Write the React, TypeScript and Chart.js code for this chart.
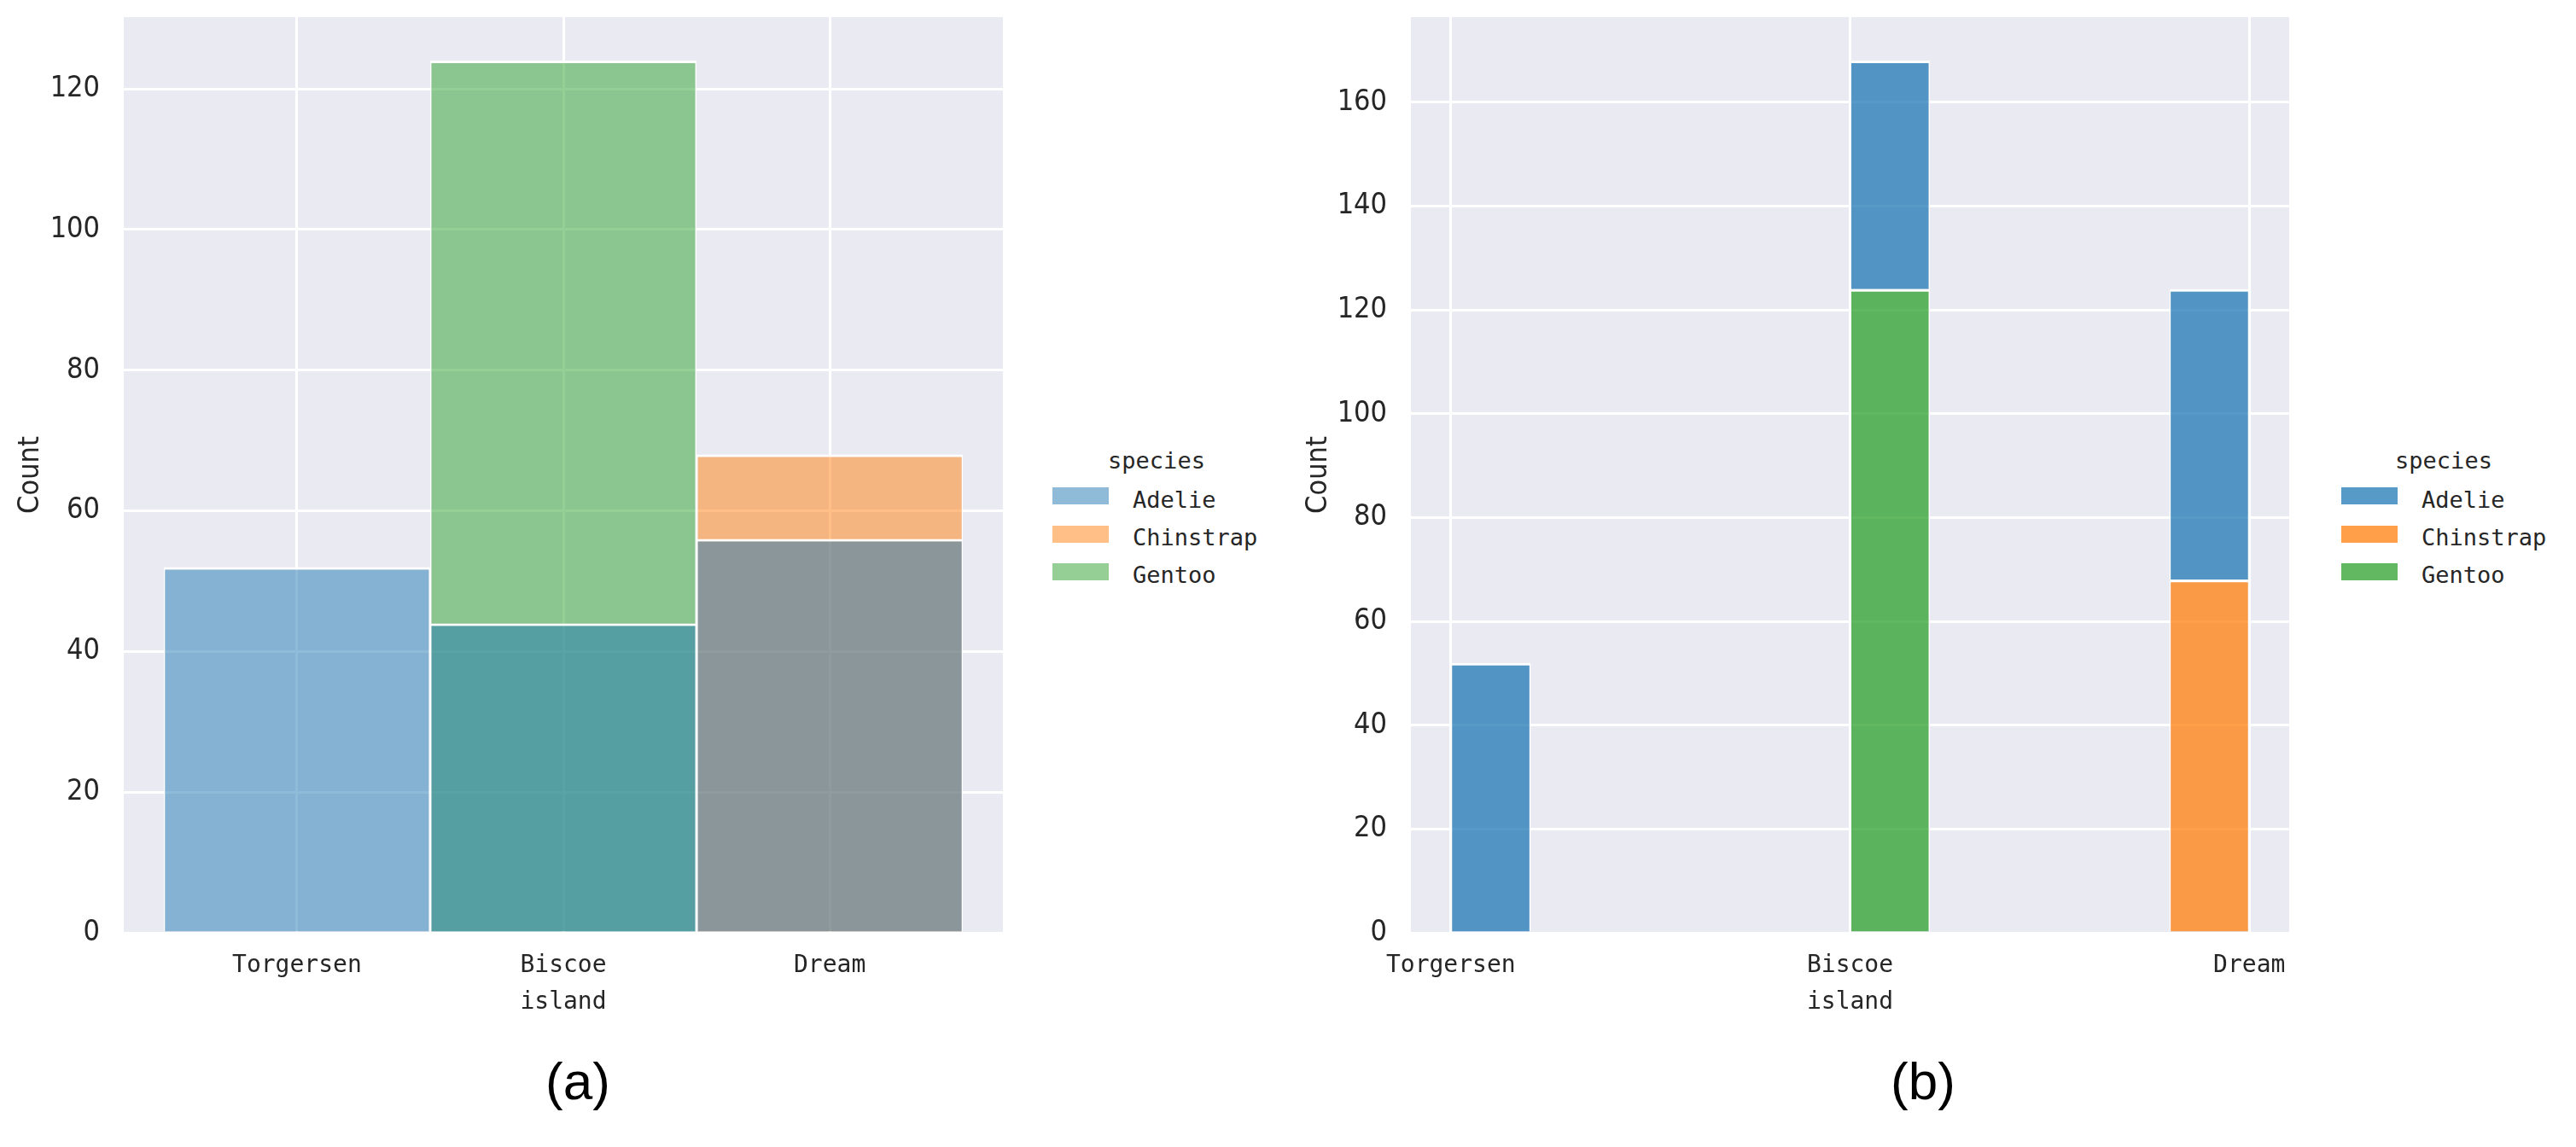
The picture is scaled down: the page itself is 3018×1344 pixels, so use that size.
import React, { useEffect, useRef } from "react";
import { Chart, registerables } from "chart.js";

Chart.register(...registerables);

// ---------------- data ----------------
const ISLANDS = ["Torgersen", "Biscoe", "Dream"];
const ISLAND_CODES = [0, 1, 2];
const SPECIES = ["Adelie", "Chinstrap", "Gentoo"];
const SPECIES_RGB = ["31, 119, 180", "255, 127, 14", "44, 160, 44"];

// (a) layered histogram: one bar per island
const LAYER_ADELIE = [52, 44, 56];
const LAYER_CHINSTRAP = [null, null, 68];
const LAYER_GENTOO = [null, 124, null];

// (b) stacked histogram of island codes, 10 bins over [0, 2]
const BIN_CENTERS = [0.1, 0.3, 0.5, 0.7, 0.9, 1.1, 1.3, 1.5, 1.7, 1.9];
const STACK_ADELIE = [52, null, null, null, null, 44, null, null, null, 56];
const STACK_CHINSTRAP = [null, null, null, null, null, null, null, null, null, 68];
const STACK_GENTOO = [null, null, null, null, null, 124, null, null, null, null];

const Y_MAX_A = 130.2;
const Y_MAX_B = 176.4;
const Y_STEP = 20;

// ---------------- style ----------------
const MONO = '"DejaVu Sans Mono", "Liberation Mono", monospace';
const NARROW = '"Liberation Sans Narrow", "DejaVu Sans Condensed", "Liberation Sans", sans-serif';
const TEXT = "#262626";
const PLOT_BG = "#EAEAF2";
const CANVAS_H = 1230;
const PLOT_TOP = 20;
const PLOT_BOTTOM = 1093;

const plotBg = {
  id: "plotBg",
  beforeDraw(chart: any) {
    const { ctx, chartArea: a } = chart;
    ctx.save();
    ctx.fillStyle = PLOT_BG;
    ctx.fillRect(a.left, a.top, a.right - a.left, a.bottom - a.top);
    ctx.restore();
  },
};

function makeOptions(p: {
  xMin: number;
  xMax: number;
  yMax: number;
  yAxisWidth: number;
  yTitlePad: number;
  padRight: number;
  stacked: boolean;
  grouped: boolean;
}) {
  const grid = { color: "#ffffff", lineWidth: 3, drawTicks: false, offset: false };
  return {
    responsive: false,
    animation: false,
    layout: { padding: { top: PLOT_TOP, right: p.padRight, bottom: 0, left: 0 } },
    plugins: { legend: { display: false }, tooltip: { enabled: false } },
    datasets: {
      bar: {
        barPercentage: 1,
        categoryPercentage: 1,
        grouped: p.grouped,
        borderColor: "#ffffff",
        borderWidth: { top: 3, left: 1.5, right: 1.5, bottom: 0 },
        borderSkipped: "start",
        inflateAmount: 0,
      },
    },
    scales: {
      x: {
        type: "linear",
        min: p.xMin,
        max: p.xMax,
        offset: false,
        stacked: p.stacked,
        grid,
        border: { display: false },
        afterBuildTicks: (s: any) => {
          s.ticks = ISLAND_CODES.map((v) => ({ value: v }));
        },
        afterFit: (s: any) => {
          s.height = CANVAS_H - PLOT_BOTTOM;
          s.paddingLeft = 0;
          s.paddingRight = 0;
        },
        ticks: {
          callback: (v: any) => ISLANDS[v] ?? "",
          font: { family: MONO, size: 28 },
          color: TEXT,
          padding: 22,
          maxRotation: 0,
          autoSkip: false,
        },
        title: {
          display: true,
          text: "island",
          font: { family: MONO, size: 28 },
          color: TEXT,
          padding: { top: 0, bottom: 38 },
        },
      },
      y: {
        type: "linear",
        min: 0,
        max: p.yMax,
        stacked: p.stacked,
        grid,
        border: { display: false },
        afterFit: (s: any) => {
          s.width = p.yAxisWidth;
          s.paddingTop = 0;
          s.paddingBottom = 0;
        },
        ticks: {
          stepSize: Y_STEP,
          includeBounds: false,
          font: { family: NARROW, size: 34 },
          color: TEXT,
          padding: 28,
        },
        title: {
          display: true,
          text: "Count",
          font: { family: NARROW, size: 34 },
          color: TEXT,
          padding: { top: p.yTitlePad, bottom: 0 },
        },
      },
    },
  };
}

function ChartCanvas({ config, left, width }: { config: any; left: number; width: number }) {
  const ref = useRef<HTMLCanvasElement | null>(null);
  useEffect(() => {
    if (!ref.current) return;
    const chart = new Chart(ref.current, config);
    return () => chart.destroy();
  }, []);
  return (
    <div style={{ position: "absolute", left, top: 0, width, height: CANVAS_H }}>
      <canvas ref={ref} width={width} height={CANVAS_H} style={{ width, height: CANVAS_H, display: "block" }} />
    </div>
  );
}

function Legend({ patchX, labelX, titleX, alpha }: { patchX: number; labelX: number; titleX: number; alpha: number }) {
  const textStyle: any = {
    position: "absolute",
    font: `27px ${MONO}`,
    lineHeight: "27px",
    color: TEXT,
    whiteSpace: "nowrap",
  };
  return (
    <>
      <div style={{ ...textStyle, left: titleX, top: 526, transform: "translateX(-50%)" }}>species</div>
      {SPECIES.map((s, i) => (
        <React.Fragment key={s}>
          <div
            style={{
              position: "absolute",
              left: patchX,
              top: 571 + i * 44.5,
              width: 66,
              height: 20,
              background: `rgba(${SPECIES_RGB[i]}, ${alpha})`,
            }}
          />
          <div style={{ ...textStyle, left: labelX, top: 572 + i * 44 }}>{s}</div>
        </React.Fragment>
      ))}
    </>
  );
}

const layerData = [LAYER_ADELIE, LAYER_CHINSTRAP, LAYER_GENTOO];
const configA = {
  type: "bar",
  data: {
    datasets: layerData.map((vals, i) => ({
      label: SPECIES[i],
      data: ISLAND_CODES.map((x, j) => ({ x, y: vals[j] })),
      backgroundColor: `rgba(${SPECIES_RGB[i]}, 0.5)`,
    })),
  },
  options: makeOptions({
    xMin: -0.65,
    xMax: 2.65,
    yMax: Y_MAX_A,
    yAxisWidth: 145,
    yTitlePad: 16,
    padRight: 25,
    stacked: false,
    grouped: false,
  }),
  plugins: [plotBg],
};

// stacking order bottom -> top: Gentoo, Chinstrap, Adelie
const stackOrder = [2, 1, 0];
const stackData = [STACK_ADELIE, STACK_CHINSTRAP, STACK_GENTOO];
const configB = {
  type: "bar",
  data: {
    datasets: stackOrder.map((i) => ({
      label: SPECIES[i],
      data: BIN_CENTERS.map((x, j) => ({ x, y: stackData[i][j] })),
      backgroundColor: `rgba(${SPECIES_RGB[i]}, 0.75)`,
    })),
  },
  options: makeOptions({
    xMin: -0.1,
    xMax: 2.1,
    yMax: Y_MAX_B,
    yAxisWidth: 153,
    yTitlePad: 25,
    padRight: 18,
    stacked: true,
    grouped: true,
  }),
  plugins: [plotBg],
};

const captionStyle: any = {
  position: "absolute",
  top: 1236,
  transform: "translateX(-50%)",
  font: '62px "Liberation Sans", Arial, sans-serif',
  lineHeight: "62px",
  color: "#000",
  whiteSpace: "nowrap",
};

export default function App() {
  return (
    <div style={{ position: "absolute", left: 0, top: 0, width: 3018, height: 1344, background: "#fff", overflow: "hidden" }}>
      <ChartCanvas config={configA} left={0} width={1200} />
      <ChartCanvas config={configB} left={1500} width={1200} />
      <Legend patchX={1233} labelX={1327} titleX={1355} alpha={0.5} />
      <Legend patchX={2743} labelX={2837} titleX={2863} alpha={0.75} />
      <div style={{ ...captionStyle, left: 677 }}>(a)</div>
      <div style={{ ...captionStyle, left: 2253 }}>(b)</div>
    </div>
  );
}
